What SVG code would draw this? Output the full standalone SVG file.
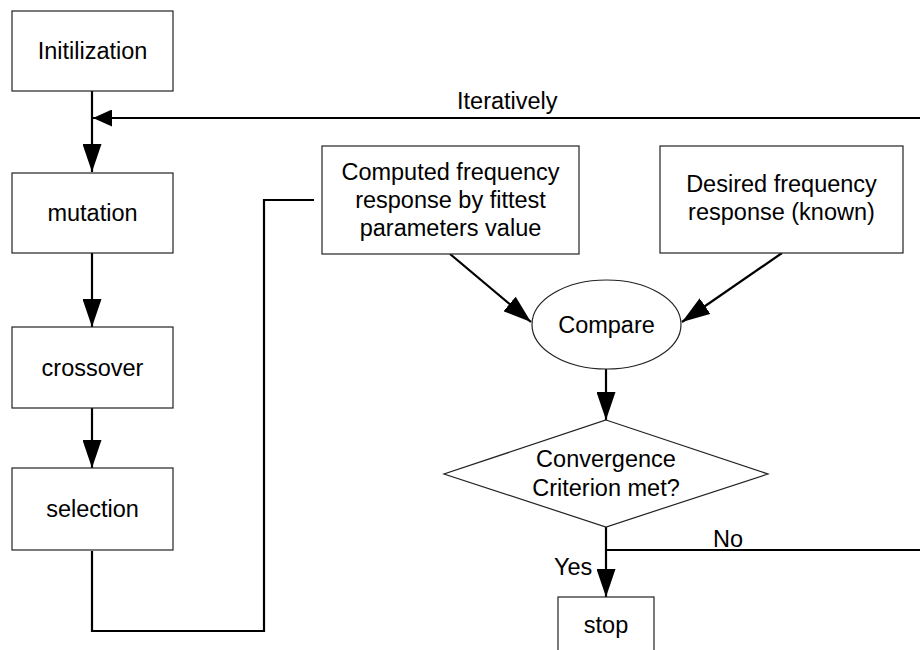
<svg xmlns="http://www.w3.org/2000/svg" width="920" height="650" viewBox="0 0 920 650">
  <style>
    .box { fill: #ffffff; stroke: #222222; stroke-width: 1.2; }
    .lbl { font-family: "Liberation Sans", Arial, sans-serif; font-size: 23.5px; fill: #000000; }
    .mid { text-anchor: middle; }
    .wire { fill: none; stroke: #000000; stroke-width: 2.2; }
  </style>
  <defs>
    <marker id="head" viewBox="0 0 28 19" refX="28" refY="9.5" markerWidth="28" markerHeight="19" markerUnits="userSpaceOnUse" orient="auto">
      <path d="M0,0 L28,9.5 L0,19 z" fill="#000000"/>
    </marker>
    <marker id="headSmall" viewBox="0 0 19 17" refX="19" refY="8.5" markerWidth="19" markerHeight="17" markerUnits="userSpaceOnUse" orient="auto">
      <path d="M0,0 L19,8.5 L0,17 z" fill="#000000"/>
    </marker>
  </defs>

  <rect width="920" height="650" fill="#ffffff"/>

  <!-- connectors -->
  <g id="connectors">
    <line class="wire" x1="92" y1="91" x2="92" y2="172" marker-end="url(#head)"/>
    <line class="wire" x1="920" y1="118" x2="93" y2="118" marker-end="url(#headSmall)"/>
    <line class="wire" x1="92" y1="253" x2="92" y2="327" marker-end="url(#head)"/>
    <line class="wire" x1="92" y1="408" x2="92" y2="468" marker-end="url(#head)"/>
    <polyline class="wire" points="92,551 92,631 264,631 264,200 314,200"/>
    <line class="wire" x1="450" y1="254" x2="531" y2="322" marker-end="url(#head)"/>
    <line class="wire" x1="782" y1="253" x2="682" y2="322" marker-end="url(#head)"/>
    <line class="wire" x1="606" y1="369" x2="606" y2="420" marker-end="url(#head)"/>
    <line class="wire" x1="606" y1="527" x2="606" y2="597" marker-end="url(#head)"/>
    <line class="wire" x1="606" y1="550" x2="920" y2="550"/>
    <text class="lbl" x="457" y="109">Iteratively</text>
    <text class="lbl" x="713" y="547">No</text>
    <text class="lbl" x="554" y="575">Yes</text>
  </g>

  <g id="init">
    <rect class="box" x="12" y="11" width="161" height="80"/>
    <text class="lbl mid" x="92.5" y="59">Initilization</text>
  </g>

  <g id="mutation">
    <rect class="box" x="12" y="173" width="161" height="80"/>
    <text class="lbl mid" x="92.5" y="221">mutation</text>
  </g>

  <g id="crossover">
    <rect class="box" x="12" y="327" width="161" height="81"/>
    <text class="lbl mid" x="92.5" y="375.5">crossover</text>
  </g>

  <g id="selection">
    <rect class="box" x="12" y="468" width="161" height="82"/>
    <text class="lbl mid" x="92.5" y="517">selection</text>
  </g>

  <g id="computed">
    <rect class="box" x="322" y="146" width="257" height="108"/>
    <text class="lbl mid" x="450.5" y="180">Computed frequency</text>
    <text class="lbl mid" x="450.5" y="208">response by fittest</text>
    <text class="lbl mid" x="450.5" y="236">parameters value</text>
  </g>

  <g id="desired">
    <rect class="box" x="660" y="146" width="243" height="107"/>
    <text class="lbl mid" x="781.5" y="192">Desired frequency</text>
    <text class="lbl mid" x="781.5" y="220">response (known)</text>
  </g>

  <g id="compare">
    <ellipse class="box" cx="606.5" cy="324.5" rx="74.5" ry="44.5"/>
    <text class="lbl mid" x="606.5" y="333">Compare</text>
  </g>

  <g id="decision">
    <polygon class="box" points="606,420 768,474 606,527 444,474"/>
    <text class="lbl mid" x="606" y="467">Convergence</text>
    <text class="lbl mid" x="606" y="496">Criterion met?</text>
  </g>

  <g id="stop">
    <rect class="box" x="558" y="597" width="96" height="70"/>
    <text class="lbl mid" x="606" y="633">stop</text>
  </g>
</svg>
